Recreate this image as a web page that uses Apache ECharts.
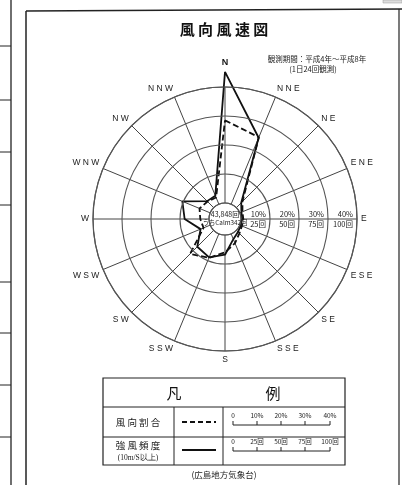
<!DOCTYPE html>
<html><head><meta charset="utf-8">
<script src="https://cdn.jsdelivr.net/npm/echarts/dist/echarts.min.js"></script>
<style>html,body{margin:0;padding:0;background:#fff}#c{width:402px;height:485px}</style>
</head><body><div id="c"></div>
<script>
// compass order, clockwise from north
const directions = ['N','NNE','NE','ENE','E','ESE','SE','SSE','S','SSW','SW','WSW','W','WNW','NW','NNW'];
// 風向割合 (%)  – dashed
const windRatio = [28.5, 25, 3, 1, 0.8, 0.8, 1.5, 3.5, 6, 9, 11.5, 2.5, 3, 4, 3, 2.5];
// 強風頻度 10m/s以上 (回) – solid
const strongWindCount = [113, 62, 6, 1.5, 1, 1, 2, 5, 17, 22, 20, 9, 21, 26, 8, 8];
const pctTicks = ['10%', '20%', '30%', '40%'];
const cntTicks = ['25回', '50回', '75回', '100回'];
const legendPctTicks = ['0', '10%', '20%', '30%', '40%'];
const legendCntTicks = ['0', '25回', '50回', '75回', '100回'];

const JP = '"Noto Sans CJK JP", sans-serif';
const LAT = '"Liberation Sans", "DejaVu Sans", sans-serif';

// angle axis: value 0 = East, clockwise; north = 270
function dirAngle(i) { return 270 + i * 22.5; }
function closed(arr) {
  const d = arr.map((v, i) => [v, dirAngle(i)]);
  d.push([arr[0], dirAngle(arr.length)]);
  return d;
}
function dirLabel(value) {
  const idx = Math.round((((value - 270) % 360) + 360) % 360 / 22.5) % 16;
  const name = directions[idx].split('').join(' ');
  return idx === 0 ? '{n|' + name + '}' : name;
}

const chart = echarts.init(document.getElementById('c'), null, { renderer: 'canvas' });

const C = [225, 219];
const R0 = 16, R = 132;
// count scale: 100回 sits on the outer ring; axis extended to 125回 so the N spike is not clipped
const CNT_MAX = 125;
const R_CNT = R0 + (R - R0) * CNT_MAX / 100;
const frameColor = '#222';

function scaleBar(y, labels) {
  const xs = [233, 257, 281, 305, 330];
  const els = [{ type: 'line', shape: { x1: xs[0], y1: y, x2: xs[4], y2: y }, style: { stroke: '#222', lineWidth: 1 } }];
  xs.forEach((x, i) => {
    els.push({ type: 'line', shape: { x1: x, y1: y, x2: x, y2: y - 4 }, style: { stroke: '#222', lineWidth: 1 } });
    els.push({ type: 'text', x: x, y: y - 6, style: { text: labels[i], font: '6.5px ' + JP, fill: '#222', textAlign: 'center', textVerticalAlign: 'bottom' } });
  });
  return els;
}

const graphics = [
  // page scan framing
  { type: 'line', shape: { x1: 11, y1: 0, x2: 11, y2: 485 }, style: { stroke: '#222', lineWidth: 1.3 } },
  ...[46, 100, 152, 205, 282, 333, 385, 437].map(y => ({ type: 'line', shape: { x1: 0, y1: y, x2: 11, y2: y }, style: { stroke: '#222', lineWidth: 1 } })),
  { type: 'line', shape: { x1: 26, y1: 11, x2: 26, y2: 485 }, style: { stroke: frameColor, lineWidth: 1.5 } },
  { type: 'line', shape: { x1: 26, y1: 11, x2: 402, y2: 9 }, style: { stroke: frameColor, lineWidth: 1.5 } },
  { type: 'line', shape: { x1: 399, y1: 9, x2: 399, y2: 485 }, style: { stroke: frameColor, lineWidth: 1.2 } },
  { type: 'rect', shape: { x: 383, y: 0, width: 19, height: 3 }, style: { fill: '#ddd', stroke: '#999', lineWidth: 0.5 } },
  // titles
  { type: 'text', x: 224, y: 29, style: { text: '風 向 風 速 図', font: 'bold 15px ' + JP, fill: '#111', textAlign: 'center', textVerticalAlign: 'middle' } },
  { type: 'text', x: 317, y: 59, style: { text: '観測期間：平成4年～平成8年', font: '7.5px ' + JP, fill: '#222', textAlign: 'center', textVerticalAlign: 'middle' } },
  { type: 'text', x: 313, y: 69, style: { text: '(1日24回観測)', font: '7.5px ' + JP, fill: '#222', textAlign: 'center', textVerticalAlign: 'middle' } },
  // calm circle text
  { type: 'text', x: C[0], y: C[1] - 5, style: { text: '43,848回', font: '7px ' + JP, fill: '#222', textAlign: 'center', textVerticalAlign: 'middle' }, z: 20 },
  { type: 'text', x: C[0], y: C[1] + 4, style: { text: 'うちCalm342回', font: '6.3px ' + JP, fill: '#222', textAlign: 'center', textVerticalAlign: 'middle' }, z: 20 },
  // legend table
  { type: 'rect', shape: { x: 103, y: 378, width: 242, height: 87 }, style: { fill: 'none', stroke: '#222', lineWidth: 1.2 } },
  { type: 'line', shape: { x1: 103, y1: 407, x2: 345, y2: 407 }, style: { stroke: '#222', lineWidth: 1 } },
  { type: 'line', shape: { x1: 103, y1: 437, x2: 345, y2: 437 }, style: { stroke: '#222', lineWidth: 1 } },
  { type: 'line', shape: { x1: 174, y1: 407, x2: 174, y2: 465 }, style: { stroke: '#222', lineWidth: 1 } },
  { type: 'line', shape: { x1: 223, y1: 407, x2: 223, y2: 465 }, style: { stroke: '#222', lineWidth: 1 } },
  { type: 'text', x: 174, y: 393, style: { text: '凡', font: '15px ' + JP, fill: '#111', textAlign: 'center', textVerticalAlign: 'middle' } },
  { type: 'text', x: 273, y: 393, style: { text: '例', font: '15px ' + JP, fill: '#111', textAlign: 'center', textVerticalAlign: 'middle' } },
  { type: 'text', x: 138, y: 422, style: { text: '風 向 割 合', font: '9.5px ' + JP, fill: '#222', textAlign: 'center', textVerticalAlign: 'middle' } },
  { type: 'text', x: 138, y: 445, style: { text: '強 風 頻 度', font: '9.5px ' + JP, fill: '#222', textAlign: 'center', textVerticalAlign: 'middle' } },
  { type: 'text', x: 138, y: 458, style: { text: '(10m/S以上)', font: '7.5px "Liberation Serif", serif', fill: '#222', textAlign: 'center', textVerticalAlign: 'middle' } },
  { type: 'line', shape: { x1: 182, y1: 422, x2: 216, y2: 422 }, style: { stroke: '#111', lineWidth: 2, lineDash: [5, 3] } },
  { type: 'line', shape: { x1: 182, y1: 450, x2: 216, y2: 450 }, style: { stroke: '#111', lineWidth: 2 } },
  ...scaleBar(425, legendPctTicks),
  ...scaleBar(451, legendCntTicks),
  { type: 'text', x: 224, y: 475, style: { text: '(広島地方気象台)', font: '8.5px ' + JP, fill: '#222', textAlign: 'center', textVerticalAlign: 'middle' } }
];

const angleBase = {
  type: 'value', min: 0, max: 360, interval: 22.5, startAngle: 0, clockwise: true
};

chart.setOption({
  animation: false,
  backgroundColor: '#fff',
  polar: [
    { center: C, radius: [R0, R] },
    { center: C, radius: [R0, R_CNT] }
  ],
  angleAxis: [
    Object.assign({}, angleBase, {
      polarIndex: 0,
      axisLine: { lineStyle: { color: '#555', width: 1.2 } },
      axisTick: { show: false },
      splitLine: { lineStyle: { color: '#444', width: 1 } },
      axisLabel: {
        margin: 4, fontSize: 8.5, color: '#222', fontFamily: LAT,
        formatter: dirLabel,
        rich: { n: { fontSize: 9, fontWeight: 'bold', color: '#111', padding: [0, 0, 16, 0], fontFamily: LAT } }
      }
    }),
    Object.assign({}, angleBase, {
      polarIndex: 1,
      axisLine: { show: false }, axisTick: { show: false }, splitLine: { show: false }, axisLabel: { show: false }
    })
  ],
  radiusAxis: [
    {
      polarIndex: 0, type: 'value', min: 0, max: 40, interval: 10,
      axisLine: { show: false }, axisTick: { show: false },
      splitLine: { lineStyle: { color: '#555', width: 1.1 } },
      axisLabel: {
        margin: 0, align: 'right', verticalAlign: 'bottom', padding: [0, 4, 1, 0],
        fontSize: 7.5, color: '#222', fontFamily: JP,
        formatter: (v, i) => (i === 0 ? '' : pctTicks[i - 1])
      },
      z: 10
    },
    {
      polarIndex: 1, type: 'value', min: 0, max: CNT_MAX, interval: 25,
      axisLine: { show: false }, axisTick: { show: false }, splitLine: { show: false },
      axisLabel: {
        margin: 0, align: 'right', verticalAlign: 'top', padding: [1, 4, 0, 0],
        fontSize: 7.5, color: '#222', fontFamily: JP,
        formatter: (v, i) => (i === 0 || i > cntTicks.length ? '' : cntTicks[i - 1])
      },
      z: 10
    }
  ],
  series: [
    {
      name: '風向割合', type: 'line', coordinateSystem: 'polar', polarIndex: 0,
      data: closed(windRatio), symbol: 'none', clip: false, smooth: false,
      lineStyle: { color: '#111', width: 1.8, type: [6, 3] }, z: 5
    },
    {
      name: '強風頻度', type: 'line', coordinateSystem: 'polar', polarIndex: 1,
      data: closed(strongWindCount), symbol: 'none', clip: false, smooth: false,
      lineStyle: { color: '#111', width: 1.8 }, z: 6
    }
  ],
  graphic: { elements: graphics }
});
</script>
</body></html>
